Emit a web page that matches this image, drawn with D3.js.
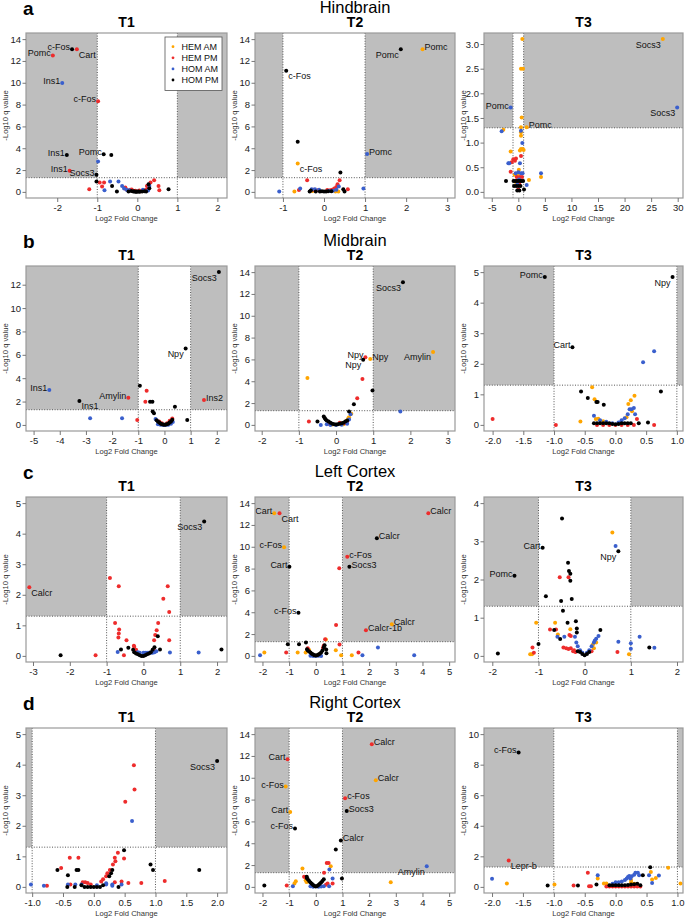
<!DOCTYPE html>
<html><head><meta charset="utf-8">
<script src="https://cdn.jsdelivr.net/npm/d3@7"></script>
<style>body{margin:0;background:#fff}svg{display:block;font-family:"Liberation Sans",Arial,sans-serif}</style>
</head><body><div id="chart"></div>
<script>
// series: 0 HEM AM, 1 HEM PM, 2 HOM AM, 3 HOM PM
const series = ['HEM AM','HEM PM','HOM AM','HOM PM'];
const colors = ['#ffa500','#ee2c2c','#3a5fcd','#000000'];
const regions = ['Hindbrain','Midbrain','Left Cortex','Right Cortex'];
const letters = ['a','b','c','d'];
const times = ['T1','T2','T3'];
const qCut = 1.3, fcCut = 1;

// points: [log2FC, -log10 q, series, label, label side]
const hindT1 = [[-2.11,12.5,1,'Pomc','l'],[-1.63,13.07,3,'c-Fos','l'],[-1.51,13.07,1,'Cart','rb'],[-1.875,9.97,2,'Ins1','l'],
 [-0.98,8.31,1,'c-Fos','l'],[-1.76,3.37,3,'Ins1','l'],[-0.84,3.44,3,'Pomc','l'],[-0.65,3.37,3],[-0.98,2.79,2],
 [-1.69,1.93,1,'Ins1','l'],[-1.02,1.56,3,'Socs3','l'],[-1.02,0.95,3],
 [-1.2,0.25,1],[-0.94,0.86,1],[-0.83,0.86,1],[-0.88,0.49,1],[-0.82,0.15,2],[-0.68,0.95,2],[-0.63,0.55,3],[-0.51,0.03,3],
 [-0.47,0.95,2],[-0.38,0.55,2],[-0.3,0.4,1],[-0.26,0.18,2],[-0.22,0.03,3],[0.24,0.55,1],[0.33,0.86,1],[0.42,1.07,1],
 [0.53,0.55,1],[0.55,0.15,1],[0.28,0.7,3],[0.3,0.34,3],[0.3,0.55,2],[0.78,0.25,3],
 [-0.2,0.15,2],[-0.18,0.2,1],[-0.15,0.08,3],[-0.12,0.1,1],[-0.1,0.03,3],[-0.08,0.05,3],[-0.05,0.02,3],[-0.02,0.02,3],
 [0,0.03,3],[0.03,0.03,3],[0.06,0.02,3],[0.08,0.05,1],[0.1,0.08,1],[0.12,0.03,3],[0.15,0.12,1],[0.18,0.05,3],[0.2,0.18,1],
 [0.22,0.03,3],[0.25,0.25,1],[-0.28,0.25,1],[-0.33,0.3,2],[0.05,0.12,1],[-0.05,0.1,1],[0.14,0.2,2],[0.27,0.12,2],[-0.14,0.22,1]];
const hindT2 = [[1.87,13.07,3,'Pomc','lb'],[2.4,13.07,0,'Pomc','r'],[-0.92,11.1,3,'c-Fos','rb'],[-0.64,4.6,3],
 [1.05,3.47,2,'Pomc','r'],[-0.64,2.6,0,'c-Fos','rb'],[0.4,1.78,3],
 [-0.41,1.07,1],[0.38,1.07,1],[0.33,0.7,1],[-1.09,0.03,2],[-0.72,0.03,0],[-0.58,0.3,2],[-0.61,0.18,1],[0.96,0.3,2],
 [0.58,0.25,1],[0.47,0.25,3],[0.5,0.03,3],[0.35,0.03,0],[0.36,0.49,2],
 [-0.35,0.03,3],[-0.3,0.25,2],[-0.28,0.08,0],[-0.25,0.2,1],[-0.2,0.03,3],[-0.15,0.15,1],[-0.1,0.03,3],[-0.05,0.05,3],
 [0,0.03,3],[0.05,0.03,3],[0.1,0.05,3],[0.15,0.15,1],[0.2,0.2,1],[0.25,0.3,1],[0.3,0.45,1],[0.28,0.03,0],[-0.22,0.25,2],
 [0.12,0.08,2],[0.22,0.1,2],[0.3,0.2,2],[-0.12,0.2,2],[0.08,0.18,1],[-0.32,0.12,3],[0.18,0.05,3]];
const hindT3 = [[27.2,3.1,0,'Socs3','lb'],[29.9,1.71,2,'Socs3','lb'],[-1.44,1.71,2,'Pomc','l'],[1.57,1.31,0,'Pomc','r'],
 [0.75,3.1,0],[0.5,2.5,0],[0.88,2.5,0],[0.63,1.51,0],[-3.14,1.23,2],[-2.82,1.26,0],[0.5,1.31,0],[0.5,1.21,0],[0.5,1.14,0],
 [0.5,1.24,2],[0.75,0.99,2],[0.5,0.87,0],[0.82,0.87,0],[0.3,0.84,0],[1.0,0.85,0],[0.5,0.73,1],[-1.44,0.82,0],[-0.94,0.66,1],
 [-0.44,0.68,1],[-0.63,0.63,1],[-1.25,0.6,1],[-1.88,0.58,2],[-1.69,0.58,2],[0.31,0.58,2],[-1.44,0.41,1],[4.27,0.38,2],
 [4.27,0.3,0],[2.0,0.24,0],[1.57,0.14,2],[-2.32,0.22,3],[1.07,0.05,3],
 [-0.9,0.22,3],[-0.6,0.22,3],[-0.3,0.22,3],[0,0.22,3],[0.3,0.22,3],[0.6,0.22,3],[0.9,0.22,3],[-0.8,0.12,3],[-0.4,0.12,3],
 [0,0.12,3],[0.4,0.12,3],[-0.2,0.03,3],[0.2,0.03,3],[0,0.4,2],[-0.5,0.38,2],[0.5,0.38,2],[0.3,0.3,1],[-0.3,0.3,1],
 [0.1,0.45,0],[-0.1,0.35,0],[0.2,0.15,1],[-0.2,0.15,2],[0,0.05,1],[0.7,0.3,1],[-0.7,0.35,0],[0.8,0.38,2],[0.15,0.25,2],[-0.5,0.2,0]];
const midT1 = [[2.08,13.08,3,'Socs3','lb'],[0.81,6.54,3,'Npy','lb'],[-4.4,2.99,2,'Ins1','l'],[-3.25,2.05,3,'Ins1','rb'],
 [-1.38,2.33,1,'Amylin','l'],[1.51,2.13,1,'Ins2','r'],
 [-0.94,3.36,3],[-0.68,2.93,1],[-0.73,1.99,1],[-0.55,1.99,3],[-0.46,1.99,3],[-0.45,1.14,3],[-0.4,1.0,3],[0.4,1.56,3],
 [0.87,0.43,3],[-2.84,0.57,2],[-1.62,0.57,2],[-1.04,0.43,1],[-0.34,0.51,2],
 [-0.3,0.4,3],[-0.25,0.3,3],[-0.2,0.2,3],[-0.15,0.12,3],[-0.1,0.06,3],[-0.05,0.03,3],[0,0.02,3],[0.05,0.03,3],[0.1,0.06,3],
 [0.15,0.12,3],[0.2,0.2,3],[0.25,0.3,3],[0.3,0.45,3],[-0.25,0.05,2],[-0.15,0.02,2],[-0.05,0,2],[0.05,0,2],[0.15,0.02,2],
 [0.25,0.1,2],[0.32,0.25,2],[-0.2,0.3,1],[0.2,0.35,1],[0.3,0.55,1],[0.1,0.15,1],[-0.1,0.15,1]];
const midT2 = [[1.8,13.08,3,'Socs3','lb'],[2.61,6.68,0,'Amylin','lb'],[0.92,6.04,0,'Npy','r'],[0.79,6.19,1,'Npy','l'],
 [0.73,5.97,3,'Npy','lb'],
 [-0.77,4.29,0],[0.71,4.2,1],[0.98,3.16,3],[0.57,2.45,1],[0.48,1.9,3],[1.73,1.23,2],[-0.73,0.31,1],[-0.5,0.31,3],
 [-0.41,0,2],[-0.33,0.77,3],[-0.3,0.61,3],[0.35,1.23,3],[0.39,0.98,2],[0.41,1.01,0],
 [-0.28,0.5,3],[-0.25,0.4,3],[-0.2,0.3,3],[-0.15,0.2,3],[-0.1,0.1,3],[-0.05,0.05,3],[0,0.03,3],[0.05,0.05,3],[0.1,0.1,3],
 [0.15,0.15,3],[0.2,0.2,3],[0.25,0.3,3],[0.3,0.4,3],[-0.25,0.05,2],[-0.15,0,2],[0,0,2],[0.15,0.02,2],[0.3,0.1,2],
 [0.35,0.5,2],[-0.2,0.1,1],[0.1,0.2,1],[0.25,0.15,1],[0.3,0.3,1],[0.35,0.7,0],[0.33,0.6,0],[0.28,0.35,0],[-0.1,0.03,0],[0.2,0.05,0]];
const midT3 = [[-1.15,4.84,3,'Pomc','l'],[0.93,4.84,3,'Npy','lb'],[-0.7,2.54,3,'Cart','l'],
 [0.63,2.41,2],[0.45,2.05,2],[0.74,1.09,3],[-0.56,1.09,3],[-0.38,1.23,0],[-0.45,0.88,3],[-0.34,0.84,0],[-0.31,0.75,3],
 [-0.29,0.75,3],[-0.19,0.66,3],[-2.0,0.19,1],[-0.97,0,1],[-0.57,0.11,0],[0.31,0.95,0],[0.25,0.81,0],[0.21,0.68,0],
 [0.23,0.51,2],[0.26,0.51,2],[0.32,0.35,2],[0.35,0.19,1],[0.38,0.05,3],[0.53,0.08,3],[0.63,0,1],[-0.35,0.3,2],[-0.32,0.19,0],
 [-0.35,0.05,3],[-0.3,0.05,3],[-0.25,0.05,3],[-0.2,0.05,3],[-0.15,0.05,3],[-0.1,0.05,3],[-0.05,0.03,3],[0,0.02,3],
 [0.05,0.03,3],[0.1,0.05,3],[0.15,0.05,3],[0.2,0.05,3],[0.25,0.05,3],[-0.3,0,1],[-0.2,0,1],[-0.1,0,1],[0,0,1],[0.1,0,1],
 [0.2,0,1],[0.3,0,1],[-0.25,0.15,2],[-0.15,0.1,2],[-0.05,0.05,2],[0.05,0.08,2],[0.1,0.15,2],[0.15,0.22,2],[0.2,0.35,2],
 [0.3,0.55,2],[-0.28,0.2,0],[-0.2,0.12,0],[0.18,0.25,0],[0.27,0.45,0]];
const lctxT1 = [[1.65,4.4,3,'Socs3','lb'],[-3.1,2.25,1,'Calcr','rb'],
 [-0.91,2.55,1],[-0.67,2.28,1],[0.66,2.28,1],[0.54,1.87,1],[0.7,1.44,1],[-0.77,1.08,1],[-0.66,0.86,1],[-0.67,0.73,1],
 [-0.68,0.6,1],[-0.46,0.51,1],[-0.26,0.33,1],[-0.53,0.02,1],[-1.3,0.02,1],[0.4,1.08,1],[0.36,0.84,1],[0.32,0.68,1],
 [0.29,0.51,1],[0.7,0.51,1],[0.39,0.64,3],[-2.25,0.02,3],[-0.41,0.27,3],[-0.61,0.21,3],[-0.7,0.13,2],[0.72,0.11,2],
 [1.5,0.11,2],[2.12,0.21,3],[0.45,0.21,3],
 [-0.28,0.2,3],[-0.25,0.12,3],[-0.2,0.08,3],[-0.15,0.05,3],[-0.1,0.02,3],[-0.05,0,3],[0,0,3],[0.05,0.02,3],[0.1,0.05,3],
 [0.15,0.08,3],[0.2,0.12,3],[0.25,0.2,3],[0.3,0.28,3],[-0.2,0.1,2],[-0.1,0.1,2],[0,0.1,2],[0.1,0.1,2],[0.2,0.1,2],
 [0.3,0.12,2],[0.35,0.15,2],[-0.15,0.12,2],[0.05,0.1,2],[0.15,0.1,2],[0.25,0.1,2],[-0.2,0.2,1],[0.28,0.22,1],[-0.25,0.3,1]];
const lctxT2 = [[4.22,13.07,1,'Calcr','r'],[-1.56,13.07,0,'Cart','l'],[-1.36,13.07,1,'Cart','rb'],[2.29,10.77,3,'Calcr','r'],
 [-1.19,9.95,0,'c-Fos','l'],[1.18,9.09,1,'c-Fos','r'],[1.26,8.17,3,'Socs3','r'],[0.88,8.02,1],[-0.99,8.17,3,'Cart','l'],
 [-0.65,3.95,3,'c-Fos','l'],[0.76,2.82,1],[2.85,2.91,0,'Calcr','r'],[1.88,2.36,1,'Calcr-1b','r'],
 [-1.05,1.07,3],[-0.63,1.07,3],[-0.37,1.22,3],[0.35,1.53,1],[0.38,1.5,0],[0.33,0.98,3],[0.29,0.73,1],[0.39,0.58,3],
 [0.89,1.04,1],[0.75,0.52,0],[0.95,0.06,0],[-2.09,0.06,2],[-1.93,0.3,0],[-1.11,0.3,1],[-0.68,0.3,0],[-0.38,0.3,0],
 [1.35,0.06,0],[1.6,0.3,1],[1.75,0.06,2],[2.33,0.76,2],[3.69,0.06,2],
 [-0.33,0.6,3],[-0.3,0.5,3],[-0.25,0.4,3],[-0.2,0.3,3],[-0.15,0.2,3],[-0.1,0.12,3],[-0.05,0.06,3],[0,0.03,3],[0.05,0.06,3],
 [0.1,0.12,3],[0.15,0.2,3],[0.2,0.3,3],[0.25,0.5,3],[0.3,0.8,3],[-0.2,0.02,2],[-0.1,0,2],[0,0,2],[0.1,0.02,2],[0.2,0,2],
 [-0.3,0.7,1],[-0.25,0.55,0],[0.3,0.95,1],[0.27,0.75,1],[0.4,0.25,3]];
const lctxT3 = [[-0.49,3.6,3],[-0.91,2.83,3,'Cart','l'],[-1.52,2.1,3,'Pomc','l'],[0.73,2.74,3,'Npy','lb'],
 [0.67,2.88,2],[0.6,3.23,0],[-0.36,2.44,3],[-0.34,2.22,3],[-0.31,2.15,3],[-0.31,1.97,3],[-0.54,2.06,1],[-0.35,2.06,1],
 [-0.84,1.56,3],[-0.51,1.44,3],[-0.28,1.49,3],[-0.47,1.18,3],[-0.37,0.87,3],[-0.19,0.91,3],[-0.17,0.72,3],[-0.17,0.61,3],
 [0.34,0.68,3],[-1.05,0.87,0],[-0.64,0.87,0],[-0.66,0.68,3],[-0.75,0.69,1],[-0.62,0.69,1],[-0.53,0.44,3],[-0.58,0.56,0],
 [-0.59,0.5,2],[-0.44,0.5,2],[-0.31,0.7,0],[-0.33,0.55,1],[-0.3,0.52,1],[-0.21,0.5,2],[0.73,0.37,2],[1.19,0.5,2],
 [1.0,0.19,2],[1.0,0.33,2],[1.4,0.22,3],[1.51,0.21,2],[0.71,0.1,1],[0.96,0.04,0],[-1.88,0.06,3],[-1.0,0.31,3],
 [-1.13,0.22,1],[-1.1,0.08,1],[-1.18,0.04,0],[-1.14,0.04,0],[-0.46,0.22,1],[-0.23,0.15,1],
 [-0.18,0.35,2],[-0.15,0.25,2],[-0.1,0.15,2],[-0.05,0.08,2],[0.05,0.08,2],[0.1,0.15,2],[0.15,0.25,2],[0.2,0.35,2],
 [0.25,0.45,2],[0.3,0.52,2],[0.22,0.4,2],[0.18,0.3,0],[0.25,0.35,0],[-0.1,0.1,3],[-0.05,0.05,3],[0,0.02,3],[0.05,0.05,3],
 [0.1,0.1,3],[-0.15,0.12,3],[-0.4,0.2,1],[-0.35,0.18,1],[-0.3,0.2,1],[-0.25,0.12,1],[-0.2,0.1,1],[0.15,0.12,1],[0.2,0.2,0]];
const rctxT1 = [[2.0,4.12,3,'Socs3','lb'],
 [0.65,3.98,1],[0.66,3.19,1],[0.51,2.79,1],[0.62,2.16,2],[0.49,1.2,3],[0.39,1.12,1],[0.34,0.95,1],[0.35,0.84,1],
 [0.31,0.73,1],[0.49,0.93,1],[0.92,0.73,3],[0.96,0.55,3],[1.71,0.55,3],[0.77,0.13,1],[1.15,0.19,1],[-0.59,0.55,3],
 [-0.53,0.62,1],[-0.39,0.95,1],[-0.25,0.95,1],[-0.42,0.38,3],[-0.28,0.55,3],[-0.25,0.55,3],[-1.02,0.08,2],[-0.81,0.04,2],
 [-0.76,0.04,1],[-0.43,0,3],[-0.31,0,3],[-0.42,0.08,2],[-0.38,0.08,1],
 [0.22,0.45,1],[0.26,0.55,1],[0.2,0.35,1],[0.15,0.25,1],[0.12,0.18,1],[0.45,0.18,1],[0.56,0.13,1],[0.34,0.15,1],
 [-0.18,0.15,1],[-0.14,0.15,1],[-0.1,0.13,1],[-0.05,0.08,1],[0.25,0.35,3],[0.3,0.55,3],[0.28,0.45,3],[0.4,0,3],
 [-0.2,0.05,3],[-0.15,0,3],[-0.1,0,3],[-0.05,0,3],[0,0,3],[0.05,0,3],[0.1,0,3],[0.15,0.05,3],
 [-0.3,0.08,2],[-0.2,0.08,2],[0.2,0.08,2],[0.3,0.08,2],[0.3,0.04,2],[0.45,0.08,2],[0.05,0.05,2],[0.2,0.12,2]];
const rctxT2 = [[2.1,13.08,1,'Calcr','r'],[-1.06,11.7,1,'Cart','l'],[2.25,9.77,0,'Calcr','r'],[-1.13,9.19,0,'c-Fos','l'],
 [1.1,8.12,1,'c-Fos','r'],[1.16,6.95,3,'Socs3','r'],[-0.96,6.86,0,'Cart','l'],[-0.78,5.36,3,'c-Fos','l'],
 [0.94,4.26,3,'Calcr','r'],[0.75,3.43,3],[4.16,1.9,2,'Amylin','lb'],
 [0.41,2.2,1],[0.48,2.2,1],[0.56,1.9,0],[0.51,1.6,2],[-0.5,1.69,0],[0.31,1.29,1],[-1.93,0.12,3],[-1.09,0.12,1],
 [-0.86,0.06,2],[-0.8,0.3,0],[-0.75,0.52,0],[-0.44,0.92,1],[-0.34,0.92,3],[-0.38,0.61,0],[0.63,0.77,2],[0.63,0.31,1],
 [2.81,0.43,0],[0.98,0.77,3],[0.44,0.31,1],[0.5,0.06,2],
 [-0.33,0.8,3],[-0.3,0.7,3],[-0.25,0.55,3],[-0.2,0.4,3],[-0.15,0.28,3],[-0.1,0.17,3],[-0.05,0.08,3],[0,0.03,3],
 [0.05,0.08,3],[0.1,0.17,3],[0.15,0.28,3],[0.2,0.4,3],[0.25,0.55,3],[0.3,0.7,3],[-0.35,0.45,0],[-0.3,0.5,0],
 [-0.2,0.05,2],[-0.1,0.02,2],[0.1,0.02,2],[0.2,0.03,2],[0.3,0.05,2],[-0.4,0.9,1],[0.38,0.2,1]];
const rctxT3 = [[-1.57,8.8,3,'c-Fos','l'],[-1.73,1.73,1,'Lepr-b','rb'],
 [0.56,1.29,3],[0.85,1.25,0],[-2.0,0.53,2],[-1.76,0.22,0],[1.05,0.22,0],[-1.1,0.09,3],[-0.99,0.15,0],[-0.68,0.09,1],
 [-0.61,0.09,3],[-0.45,0.92,1],[-0.43,0.04,1],[-0.4,0.04,1],[-0.31,0.15,3],[-0.29,0.55,0],[-0.29,0.77,2],[-0.19,0.22,0],
 [-0.15,0.22,0],[0.54,0.77,2],[0.59,0.26,2],[0.57,0.98,0],[0.59,0.48,0],[0.65,0.59,0],[0.7,0.74,2],[0.44,0.77,3],
 [0.32,0.92,2],[0.36,0.92,2],[0.38,0.77,2],[0.24,0.55,2],[0.2,0.65,2],[0.18,0.55,2],[0.15,0.45,2],[0.1,0.35,2],
 [0.05,0.3,2],[0,0.3,2],[-0.05,0.2,2],[0.3,0.8,2],[0.26,0.7,2],[0.22,0.72,2],[0.25,0.45,0],[0.25,0.3,0],[0.3,0.2,0],
 [-0.05,0.15,0],[-0.1,0.1,3],[-0.05,0.1,3],[0,0.1,3],[0.05,0.1,3],[0.1,0.1,3],[0.15,0.1,3],[0.2,0.12,3],[0.25,0.15,3],
 [0.3,0.18,3],[0.35,0.2,3],[0.4,0.1,3],[-0.15,0.02,1],[-0.1,0.02,1],[-0.05,0.02,1],[0,0.02,1],[0.05,0.02,1],[0.1,0.02,1],
 [0.15,0.02,1],[0.2,0.02,1],[0.25,0.02,1],[0.3,0.02,1],[0.35,0.02,1],[0.4,0.02,1]];

// tick values
const yt14 = [0,2,4,6,8,10,12,14], yt12 = [0,2,4,6,8,10,12], yt10 = [0,2,4,6,8,10];
const yt5 = [0,1,2,3,4,5], yt4 = [0,1,2,3,4], yt3 = [0,0.5,1,1.5,2,2.5,3];

const panels = [
  {row:0,col:0,pts:hindT1,xd:[-2.78,2.24],yd:[-0.56,14.56],xt:[-2,-1,0,1,2],yt:yt14,xdec:0,ydec:0,legend:true},
  {row:0,col:1,pts:hindT2,xd:[-1.68,3.19],yd:[-0.56,14.56],xt:[-1,0,1,2,3],yt:yt14,xdec:0,ydec:0},
  {row:0,col:2,pts:hindT3,xd:[-6.46,31.0],yd:[-0.124,3.224],xt:[-5,0,5,10,15,20,25,30],yt:yt3,xdec:0,ydec:1},
  {row:1,col:0,pts:midT1,xd:[-5.29,2.39],yd:[-0.52,13.6],xt:[-5,-4,-3,-2,-1,0,1,2],yt:yt12,xdec:0,ydec:0},
  {row:1,col:1,pts:midT2,xd:[-2.18,3.2],yd:[-0.56,14.56],xt:[-2,-1,0,1,2,3],yt:yt14,xdec:0,ydec:0},
  {row:1,col:2,pts:midT3,xd:[-2.14,1.1],yd:[-0.2,5.2],xt:[-2,-1.5,-1,-0.5,0,0.5,1],yt:yt5,xdec:1,ydec:0},
  {row:2,col:0,pts:lctxT1,xd:[-3.19,2.27],yd:[-0.2,5.2],xt:[-3,-2,-1,0,1,2],yt:yt5,xdec:0,ydec:0},
  {row:2,col:1,pts:lctxT2,xd:[-2.28,5.22],yd:[-0.56,14.56],xt:[-2,-1,0,1,2,3,4,5],yt:yt14,xdec:0,ydec:0},
  {row:2,col:2,pts:lctxT3,xd:[-2.18,2.13],yd:[-0.16,4.16],xt:[-2,-1,0,1,2],yt:yt4,xdec:0,ydec:0},
  {row:3,col:0,pts:rctxT1,xd:[-1.1,2.16],yd:[-0.2,5.2],xt:[-1,-0.5,0,0.5,1,1.5,2],yt:yt5,xdec:1,ydec:0},
  {row:3,col:1,pts:rctxT2,xd:[-2.28,5.22],yd:[-0.56,14.56],xt:[-2,-1,0,1,2,3,4,5],yt:yt14,xdec:0,ydec:0},
  {row:3,col:2,pts:rctxT3,xd:[-2.13,1.09],yd:[-0.4,10.4],xt:[-2,-1.5,-1,-0.5,0,0.5,1],yt:yt10,xdec:1,ydec:0}
];

const colX = [26,255,484], colW = [201,200,199], rowY = [33,266,497,728], boxH = 165;
const FONT = '"Liberation Sans",Arial,sans-serif';
const labelPos = {l:[-2,1,'end'], r:[2,1,'start'], lb:[-2,8.5,'end'], rb:[2,8.5,'start']};

const svg = d3.select('#chart').append('svg').attr('width',685).attr('height',919);

// row headers
regions.forEach(function(r,i){
  svg.append('text').attr('x',23).attr('y',rowY[i]-18).text(letters[i])
    .attr('font-size',19).attr('font-weight','bold').attr('fill','#000');
  svg.append('text').attr('x',colX[1]+colW[1]/2).attr('y',rowY[i]-20.5).text(r)
    .attr('text-anchor','middle').attr('font-size',16.5).attr('fill','#000');
  times.forEach(function(t,j){
    svg.append('text').attr('x',colX[j]+colW[j]/2).attr('y',rowY[i]-6.5).text(t)
      .attr('text-anchor','middle').attr('font-size',14).attr('font-weight','bold').attr('fill','#000');
  });
});

panels.forEach(function(p){
  const x0 = colX[p.col], y0 = rowY[p.row], w = colW[p.col];
  const x = d3.scaleLinear().domain(p.xd).range([x0, x0+w]);
  const y = d3.scaleLinear().domain(p.yd).range([y0+boxH, y0]);
  const g = svg.append('g');
  const yq = y(qCut);

  // shaded significance regions
  if (p.xd[0] < -fcCut) g.append('rect').attr('x',x0).attr('y',y0)
      .attr('width',x(-fcCut)-x0).attr('height',yq-y0).attr('fill','#bebebe');
  if (p.xd[1] > fcCut) g.append('rect').attr('x',x(fcCut)).attr('y',y0)
      .attr('width',x0+w-x(fcCut)).attr('height',yq-y0).attr('fill','#bebebe');

  // cut-off lines
  [-fcCut, fcCut].forEach(function(v){
    g.append('line').attr('x1',x(v)).attr('x2',x(v)).attr('y1',y0).attr('y2',y0+boxH)
      .attr('stroke','#555').attr('stroke-width',1).attr('stroke-dasharray','1,1.6');
  });
  g.append('line').attr('x1',x0).attr('x2',x0+w).attr('y1',yq).attr('y2',yq)
    .attr('stroke','#555').attr('stroke-width',1).attr('stroke-dasharray','1,1.6');

  // points, drawn series by series
  const pts = p.pts.slice().sort(function(a,b){return a[2]-b[2]});
  g.selectAll('circle.pt').data(pts).enter().append('circle')
    .attr('cx',function(d){return x(d[0])}).attr('cy',function(d){return y(d[1])})
    .attr('r',2).attr('fill',function(d){return colors[d[2]]});

  // gene labels
  g.selectAll('text.lab').data(p.pts.filter(function(d){return d[3]})).enter().append('text')
    .attr('x',function(d){return x(d[0])+labelPos[d[4]][0]})
    .attr('y',function(d){return y(d[1])+labelPos[d[4]][1]})
    .attr('text-anchor',function(d){return labelPos[d[4]][2]})
    .attr('font-size',9).attr('fill','#111').text(function(d){return d[3]});

  // frame
  g.append('rect').attr('x',x0).attr('y',y0).attr('width',w).attr('height',boxH)
    .attr('fill','none').attr('stroke','#9a9a9a').attr('stroke-width',1.2);

  // axes
  const ax = g.append('g').attr('transform','translate(0,'+(y0+boxH)+')')
    .call(d3.axisBottom(x).tickValues(p.xt).tickSize(4).tickPadding(2.5)
      .tickFormat(function(v){return v.toFixed(p.xdec)}));
  const ay = g.append('g').attr('transform','translate('+x0+',0)')
    .call(d3.axisLeft(y).tickValues(p.yt).tickSize(3.5).tickPadding(1.5)
      .tickFormat(function(v){return v.toFixed(p.ydec)}));
  [ax, ay].forEach(function(a){
    a.select('.domain').remove();
    a.selectAll('line').attr('stroke','#777');
    a.selectAll('text').attr('font-size',9.5).attr('font-family',FONT).attr('fill','#222');
  });

  // axis titles
  g.append('text').attr('x',x0+w/2).attr('y',y0+boxH+22.5).attr('text-anchor','middle')
    .attr('font-size',7.6).attr('fill','#333').text('Log2 Fold Change');
  g.append('text').attr('transform','translate('+(x0-20.5)+','+(y0+boxH/2)+') rotate(-90)')
    .attr('dy','0.35em').attr('text-anchor','middle')
    .attr('font-size',7.6).attr('fill','#333').text('-Log10 q value');

  // legend
  if (p.legend) {
    const lg = g.append('g');
    lg.append('rect').attr('x',165).attr('y',37).attr('width',57).attr('height',53.5)
      .attr('fill','#fff').attr('stroke','#555').attr('stroke-width',0.8);
    series.forEach(function(s,i){
      const yy = 46.7 + i*11.1;
      lg.append('circle').attr('cx',173).attr('cy',yy).attr('r',1.4).attr('fill',colors[i]);
      lg.append('text').attr('x',181.5).attr('y',yy).attr('dy','0.35em')
        .attr('font-size',9).attr('fill','#111').text(s);
    });
  }
});
</script>
</body></html>
